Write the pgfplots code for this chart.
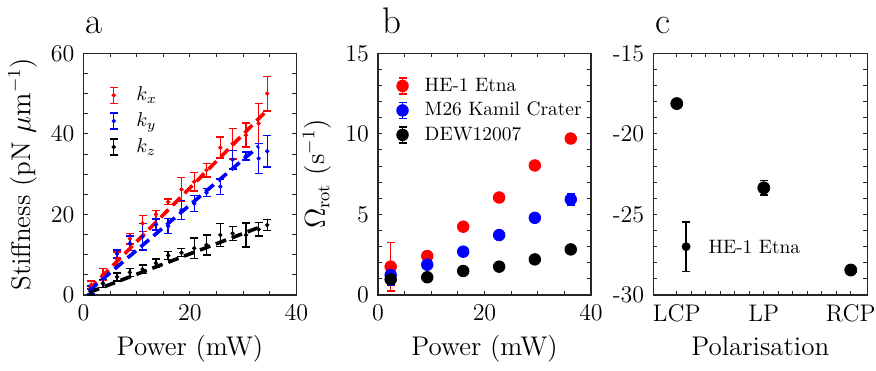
\documentclass[border=0pt]{standalone}
\usepackage{pgfplots}
\pgfplotsset{compat=1.18}
\usepackage{pgfplotstable}

\definecolor{axgray}{RGB}{38,38,38}

\pgfplotstableread{
x     kx    ekx  ky    eky  kz    ekz
1.45  2.5   1.0  1.2   1.0  0.8   0.8
3.65  5.1   1.5  2.9   1.0  2.9   1.0
6.3   9.0   1.7  10.2  1.0  4.5   1.0
8.7   14.0  1.3  12.8  1.8  5.6   1.0
11.1  17.8  2.0  14.5  3.3  6.4   1.0
13.6  20.0  1.0  17.5  1.4  7.9   1.0
15.9  23.1  0.7  17.1  1.9  9.8   1.0
18.4  26.2  2.9  21.1  2.3  10.5  1.0
20.8  28.1  2.3  22.7  2.0  11.6  2.6
23.1  31.0  1.7  25.4  1.0  12.4  2.5
25.7  36.6  2.6  26.9  1.9  14.9  2.9
28.0  37.6  3.8  33.6  2.3  15.3  1.7
30.5  39.7  3.0  34.5  1.0  14.9  3.0
32.9  42.6  5.0  33.9  3.7  16.3  1.7
34.5  50.0  4.3  35.7  3.9  17.4  1.4
}\dataA

\pgfplotstableread{
x     he    ehe  m26   em26  dew   edew
2.38  1.76  1.5  1.24  0.62  0.97  0.3
9.25  2.42  0.2  1.88  0.6   1.10  0.2
16.0  4.24  0.2  2.69  0.2   1.49  0.2
22.75 6.05  0.2  3.72  0.2   1.76  0.2
29.45 8.04  0.2  4.79  0.2   2.21  0.2
36.2  9.71  0.2  5.93  0.35  2.83  0.2
}\dataB

\pgfplotstableread{
x     y       e
0     -18.12  0.2
1     -23.35  0.45
2     -28.45  0.2
}\dataC

\pgfplotsset{
  panel/.style={
    scale only axis, height=120.85pt, anchor=south west,
    axis line style={axgray, line width=0.6pt},
    every tick/.style={axgray, line width=0.5pt},
    major tick length=2pt, minor tick length=2pt,
    tick align=inside, xtick pos=both, ytick pos=both,
    xticklabel pos=lower, yticklabel pos=left,
    ticklabel style={font=\fontsize{12}{14}\selectfont, text=black},
    xticklabel style={yshift=-1.5pt},
    yticklabel style={xshift=-1pt},
    label style={font=\fontsize{13.5}{15}\selectfont},
    xlabel style={yshift=-0.5pt},
    clip=false,
  },
  eb/.style={
    error bars/y dir=both, error bars/y explicit,
    error bars/error bar style={line width=0.7pt},
    error bars/error mark options={rotate=90, mark size=2pt, line width=0.7pt},
  },
  legA/.style={legend image code/.code={
    \draw[line width=0.7pt] (0.2cm,-4pt) -- (0.2cm,4pt)
      (0.2cm-2pt,-4pt) -- (0.2cm+2pt,-4pt) (0.2cm-2pt,4pt) -- (0.2cm+2pt,4pt);
    \fill (0.2cm,0pt) circle (0.9pt);}},
  legB/.style={legend image code/.code={
    \draw[line width=0.7pt] (0.2cm,-4pt) -- (0.2cm,4pt)
      (0.2cm-2pt,-4pt) -- (0.2cm+2pt,-4pt) (0.2cm-2pt,4pt) -- (0.2cm+2pt,4pt);
    \fill (0.2cm,0pt) circle (2.9pt);}},
}

\begin{document}
\begin{tikzpicture}
\useasboundingbox (0,0) rectangle (438pt,185pt);

% ---------------- panel a ----------------
\begin{axis}[panel, at={(41.75pt,37.5pt)}, width=106.5pt,
  xmin=0, xmax=40, ymin=0, ymax=60,
  xtick={0,20,40}, ytick={0,20,40,60},
  minor x tick num=3, minor y tick num=3,
  xlabel={Power (mW)}, ylabel={Stiffness (pN $\mu\mathrm{m}^{-1}$)},
  legend style={draw=none, fill=none, at={(rel axis cs:0.090,0.888)}, anchor=north west,
    font=\fontsize{10.2}{11}\selectfont, row sep=2.5pt, column sep=8pt, nodes={inner sep=1pt}},
  legend cell align=left,
]
\addplot[red, only marks, mark=*, mark size=0.9pt, eb, legA] table[x=x, y=kx, y error=ekx] {\dataA};
\addlegendentry{$k_x$}
\addplot[blue, only marks, mark=*, mark size=0.9pt, eb, legA] table[x=x, y=ky, y error=eky] {\dataA};
\addlegendentry{$k_y$}
\addplot[black, only marks, mark=*, mark size=0.9pt, eb, legA] table[x=x, y=kz, y error=ekz] {\dataA};
\addlegendentry{$k_z$}
\addplot[red, line width=1.8pt, dash pattern=on 5.5pt off 3pt, forget plot] coordinates {(1.0,1.3) (34.2,45.5)};
\addplot[blue, line width=1.8pt, dash pattern=on 5.5pt off 3pt, forget plot] coordinates {(1.0,1.0) (32.9,36.9)};
\addplot[black, line width=1.8pt, dash pattern=on 5.5pt off 3pt, forget plot] coordinates {(1.0,0.6) (33.2,16.9)};
\node[anchor=base west, inner sep=0pt, font=\fontsize{18.5}{20}\selectfont] at (rel axis cs:0,1) [xshift=1pt, yshift=9.65pt] {a};
\end{axis}

% ---------------- panel b ----------------
\begin{axis}[panel, at={(189pt,37.5pt)}, width=106.5pt,
  xmin=0, xmax=40, ymin=0, ymax=15,
  xtick={0,20,40}, ytick={0,5,10,15},
  minor x tick num=3, minor y tick num=4,
  xlabel={Power (mW)}, ylabel={$\Omega_{\mathrm{rot}}$ (s$^{-1}$)},
  legend style={draw=none, fill=none, at={(rel axis cs:0.056,0.925)}, anchor=north west,
    font=\fontsize{9.7}{11}\selectfont, row sep=2pt, column sep=7pt, nodes={inner sep=1pt}},
  legend cell align=left,
]
\addplot[red, only marks, mark=*, mark size=2.9pt, eb, legB] table[x=x, y=he, y error=ehe] {\dataB};
\addlegendentry{HE-1 Etna}
\addplot[blue, only marks, mark=*, mark size=2.9pt, eb, legB] table[x=x, y=m26, y error=em26] {\dataB};
\addlegendentry{M26 Kamil Crater}
\addplot[black, only marks, mark=*, mark size=2.9pt, eb, legB] table[x=x, y=dew, y error=edew] {\dataB};
\addlegendentry{DEW12007}
\node[anchor=base west, inner sep=0pt, font=\fontsize{18.5}{20}\selectfont] at (rel axis cs:0,1) [xshift=2pt, yshift=9.65pt] {b};
\end{axis}

% ---------------- panel c ----------------
\begin{axis}[panel, at={(326.65pt,37.5pt)}, width=107pt,
  xmin=-0.27, xmax=2.19, ymin=-30, ymax=-15,
  xtick={0,1,2}, xticklabels={LCP,LP,RCP},
  ytick={-30,-25,-20,-15}, yticklabels={-30,-25,-20,-15},
  minor x tick num=5, minor y tick num=4,
  xlabel={Polarisation},
]
\addplot[black, only marks, mark=*, mark size=3pt, eb] table[x=x, y=y, y error=e] {\dataC};
\addplot[black, only marks, mark=*, mark size=2pt, eb] coordinates {(0.107,-27.0) +- (0,1.54)};
\node[anchor=west, inner sep=0pt, font=\fontsize{9.7}{11}\selectfont] at (axis cs:0.36,-27.0) {HE-1 Etna};
\node[anchor=base west, inner sep=0pt, font=\fontsize{18.5}{20}\selectfont] at (rel axis cs:0,1) [xshift=1pt, yshift=9.65pt] {c};
\end{axis}
\end{tikzpicture}
\end{document}
